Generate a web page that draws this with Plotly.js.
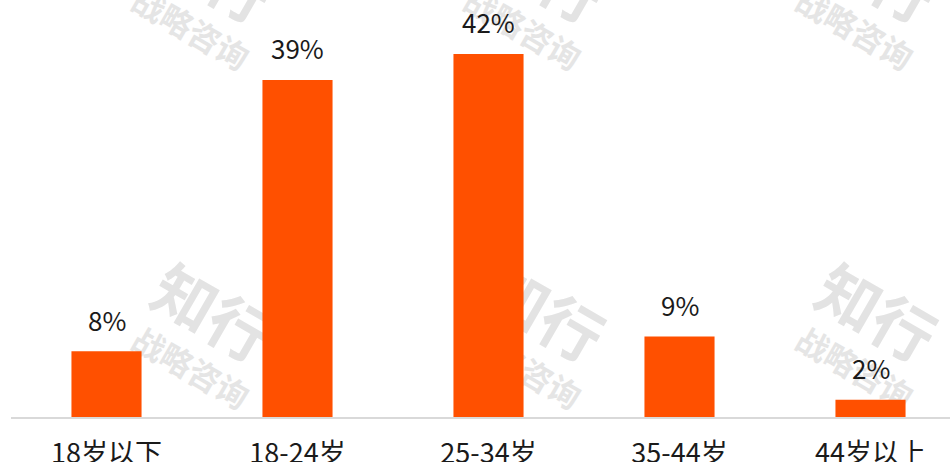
<!DOCTYPE html>
<html>
<head>
<meta charset="utf-8">
<script src="https://cdn.plot.ly/plotly-3.0.1.min.js"></script>
<style>
html,body{margin:0;padding:0;background:#fff;}
#chart{width:950px;height:462px;}
</style>
</head>
<body>
<div id="chart"></div>
<script>
// ---- data ----
const categories = ['18岁以下', '18-24岁', '25-34岁', '35-44岁', '44岁以上'];
const shares = [7.6, 39.0, 42.0, 9.3, 2.0];
const shareLabels = ['8%', '39%', '42%', '9%', '2%'];

// ---- layout constants ----
const W = 950, H = 462;
const M = {l: 11, r: 0, t: 0, b: 45};
const plotW = W - M.l - M.r, plotH = H - M.t - M.b;
const font = '"Noto Sans CJK SC", "Noto Sans", sans-serif';

// watermark centres (pixels) for the "知行 / 战略咨询" stamp
const wmCols = [209, 541, 873];
const wmRows = [-20, 319];
function px2paper(x, y) { return [(x - M.l) / plotW, 1 - (y - M.t) / plotH]; }
function textShape(cx, cy, text, size, color) {
  const p = px2paper(cx, cy);
  const d = 0.002;
  return {
    type: 'rect', xref: 'paper', yref: 'paper', layer: 'below',
    x0: p[0] - d, x1: p[0] + d, y0: p[1] - d, y1: p[1] + d,
    line: {width: 0}, fillcolor: 'rgba(0,0,0,0)',
    label: {text: text, textangle: 30, textposition: 'middle center',
            font: {family: font, size: size, color: color, weight: 'bold'}}
  };
}
const shapes = [];
wmRows.forEach(function (ry) {
  wmCols.forEach(function (cx) {
    shapes.push(textShape(cx, ry, '<b>知行</b>', 62, '#e3e3e3'));
    shapes.push(textShape(cx - 20, ry + 52, '<b>战略咨询</b>', 32, '#e5e5e5'));
  });
});

const annotations = categories.map(function (c, i) {
  return {
    x: c, y: shares[i], xref: 'x', yref: 'y',
    text: shareLabels[i], showarrow: false,
    yanchor: 'middle', yshift: 32,
    font: {family: font, size: 26, color: '#1a1a1a'}
  };
});

const trace = {
  type: 'bar', x: categories, y: shares,
  marker: {color: '#FF5000'},
  hoverinfo: 'none'
};

const layout = {
  width: W, height: H,
  margin: M,
  paper_bgcolor: '#ffffff', plot_bgcolor: 'rgba(0,0,0,0)',
  showlegend: false,
  bargap: 0.633,
  xaxis: {
    type: 'category',
    range: [-0.5, -0.5 + plotW / 191],
    showline: true, linecolor: '#d9d9d9', linewidth: 1.5,
    showgrid: false, zeroline: false,
    ticks: '', ticklabelstandoff: 12,
    tickfont: {family: font, size: 27, color: '#1a1a1a'},
    fixedrange: true
  },
  yaxis: {
    range: [0, plotH / 8.643],
    visible: false, showgrid: false, zeroline: false, fixedrange: true
  },
  shapes: shapes,
  annotations: annotations
};

Plotly.newPlot('chart', [trace], layout, {displayModeBar: false, staticPlot: true});
</script>
</body>
</html>
